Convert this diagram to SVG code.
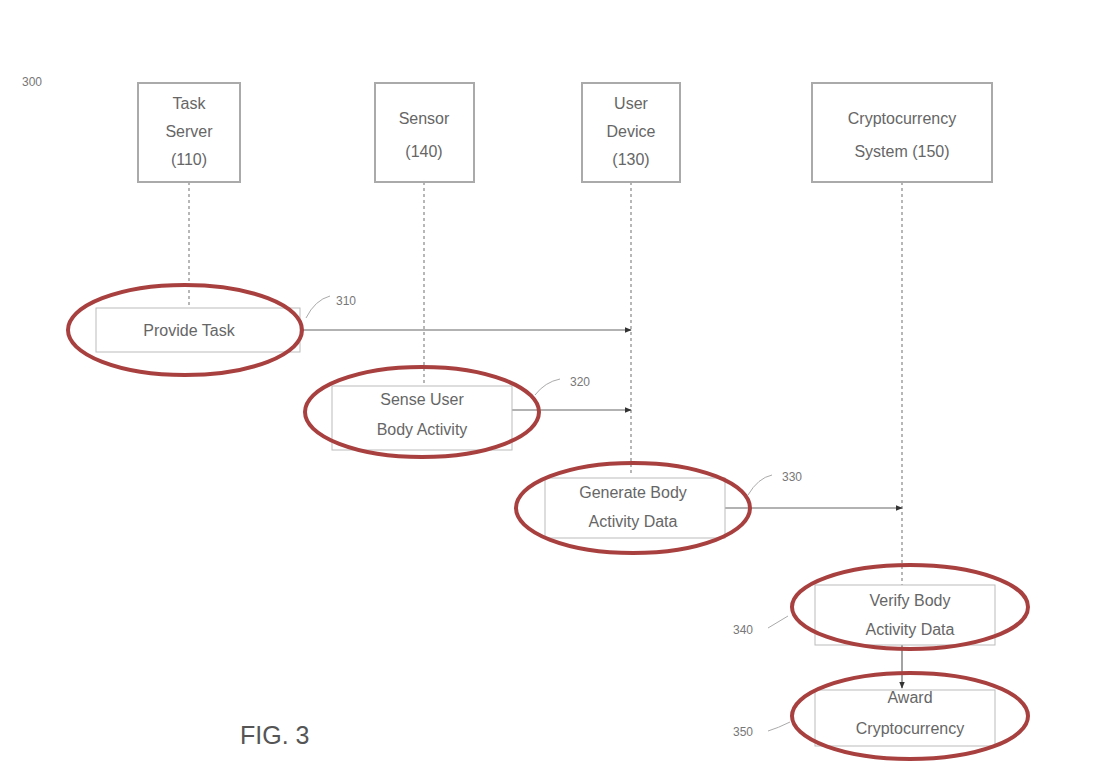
<svg xmlns="http://www.w3.org/2000/svg" width="1097" height="776" viewBox="0 0 1097 776">
<defs>
<marker id="ah" viewBox="0 0 10 10" refX="9" refY="5" markerWidth="7" markerHeight="7" orient="auto" markerUnits="userSpaceOnUse">
<path d="M0,1 L10,5 L0,9 z" fill="#333"/>
</marker>
<style>
.box{fill:#fff;stroke:#aaa;stroke-width:2}
.step{fill:none;stroke:#bbb;stroke-width:1}
.oval{fill:none;stroke:#a8403f;stroke-width:4}
.t{font-family:"Liberation Sans","DejaVu Sans",sans-serif;font-size:16px;fill:#666;text-anchor:middle}
.n{font-family:"Liberation Sans","DejaVu Sans",sans-serif;font-size:12px;fill:#777}
.life{stroke:#888;stroke-width:1.2;stroke-dasharray:3 3;fill:none}
.arr{stroke:#666;stroke-width:1.2;fill:none}
.lead{stroke:#aaa;stroke-width:1;fill:none}
</style>
</defs>
<rect width="1097" height="776" fill="#fff"/>
<text class="n" x="22" y="86">300</text>

<g id="connectors">
<line class="life" x1="189" y1="182" x2="189" y2="306"/>
<line class="life" x1="424" y1="182" x2="424" y2="385"/>
<line class="life" x1="631" y1="182" x2="631" y2="475"/>
<line class="life" x1="902" y1="182" x2="902" y2="585"/>
<line class="arr" x1="300" y1="330" x2="631" y2="330" marker-end="url(#ah)"/>
<line class="arr" x1="512" y1="410" x2="631" y2="410" marker-end="url(#ah)"/>
<line class="arr" x1="725" y1="508" x2="902" y2="508" marker-end="url(#ah)"/>
<line class="arr" x1="902" y1="645" x2="902" y2="688" marker-end="url(#ah)"/>
<path class="lead" d="M306,318 Q315,300 330,296"/>
<path class="lead" d="M535,395 Q545,382 560,379"/>
<path class="lead" d="M748,495 Q758,478 772,475"/>
<path class="lead" d="M768,628 Q778,622 788,616"/>
<path class="lead" d="M768,731 Q778,728 790,722"/>
<text class="n" x="336" y="305">310</text>
<text class="n" x="570" y="386">320</text>
<text class="n" x="782" y="481">330</text>
<text class="n" x="733" y="634">340</text>
<text class="n" x="733" y="736">350</text>
</g>

<g id="task-server">
<rect class="box" x="138" y="83" width="102" height="99"/>
<text class="t" x="189" y="109">Task</text>
<text class="t" x="189" y="137">Server</text>
<text class="t" x="189" y="165">(110)</text>
</g>
<g id="sensor">
<rect class="box" x="375" y="83" width="99" height="99"/>
<text class="t" x="424" y="124">Sensor</text>
<text class="t" x="424" y="157">(140)</text>
</g>
<g id="user-device">
<rect class="box" x="582" y="83" width="98" height="99"/>
<text class="t" x="631" y="109">User</text>
<text class="t" x="631" y="137">Device</text>
<text class="t" x="631" y="165">(130)</text>
</g>
<g id="crypto-system">
<rect class="box" x="812" y="83" width="180" height="99"/>
<text class="t" x="902" y="124">Cryptocurrency</text>
<text class="t" x="902" y="157">System (150)</text>
</g>

<g id="provide-task">
<rect class="step" x="96" y="308" width="204" height="44"/>
<text class="t" x="189" y="336">Provide Task</text>
<ellipse class="oval" cx="185" cy="330" rx="117" ry="45"/>
</g>
<g id="sense-activity">
<rect class="step" x="332" y="386" width="180" height="64"/>
<text class="t" x="422" y="405">Sense User</text>
<text class="t" x="422" y="435">Body Activity</text>
<ellipse class="oval" cx="422" cy="412" rx="117" ry="45"/>
</g>
<g id="generate-data">
<rect class="step" x="545" y="478" width="180" height="60"/>
<text class="t" x="633" y="498">Generate Body</text>
<text class="t" x="633" y="527">Activity Data</text>
<ellipse class="oval" cx="633" cy="508" rx="117" ry="45"/>
</g>
<g id="verify-data">
<rect class="step" x="815" y="585" width="180" height="60"/>
<text class="t" x="910" y="606">Verify Body</text>
<text class="t" x="910" y="635">Activity Data</text>
<ellipse class="oval" cx="910" cy="607" rx="118" ry="42"/>
</g>
<g id="award">
<rect class="step" x="815" y="690" width="180" height="56"/>
<text class="t" x="910" y="703">Award</text>
<text class="t" x="910" y="734">Cryptocurrency</text>
<ellipse class="oval" cx="910" cy="716" rx="118" ry="43"/>
</g>

<text x="240" y="744" font-family="'Liberation Sans','DejaVu Sans',sans-serif" font-size="25" fill="#555">FIG. 3</text>
</svg>
